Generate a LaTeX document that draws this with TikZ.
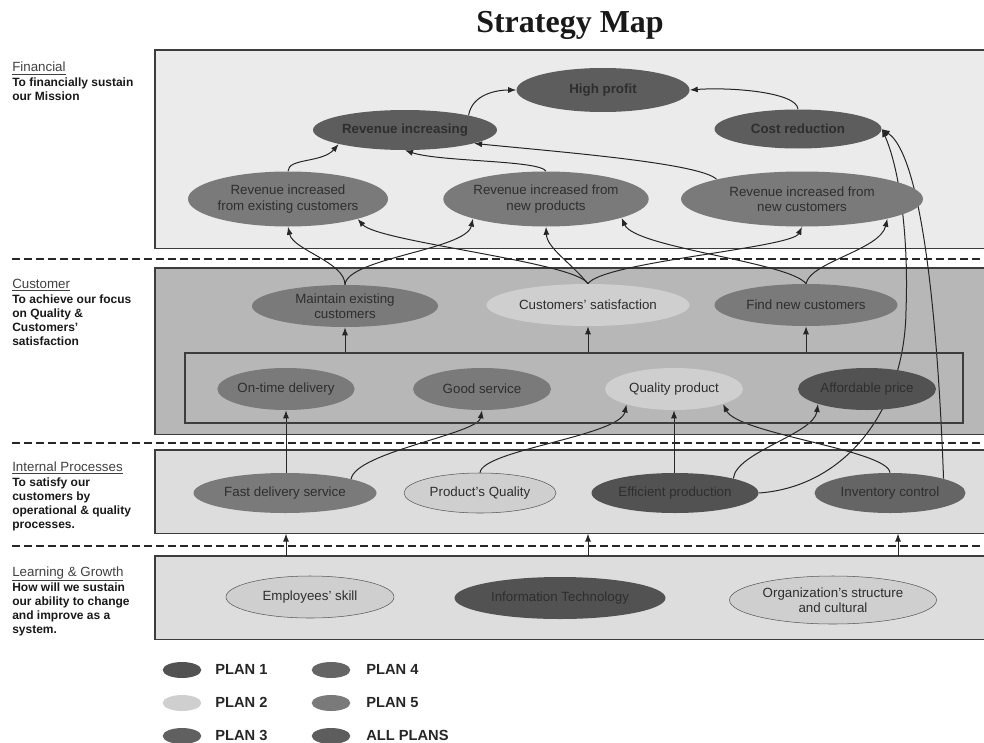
\documentclass[tikz,border=0pt]{standalone}
\usepackage{fontspec}
\setmainfont{Liberation Sans}
\newfontfamily\titlefont{Liberation Serif}
\usetikzlibrary{shapes.geometric,arrows.meta,calc}
\pgfdeclarelayer{bg}
\pgfdeclarelayer{edges}
\pgfsetlayers{bg,edges,main}
\definecolor{cFin}{HTML}{EBEBEB}
\definecolor{cCus}{HTML}{B7B7B7}
\definecolor{cInt}{HTML}{DDDDDD}
\definecolor{cAll}{HTML}{5D5D5D}
\definecolor{cPa}{HTML}{525252}
\definecolor{cPb}{HTML}{CFCFCF}
\definecolor{cPc}{HTML}{606060}
\definecolor{cPd}{HTML}{656565}
\definecolor{cPe}{HTML}{7A7A7A}
\definecolor{ntext}{HTML}{2E2E2E}
\definecolor{lineC}{HTML}{262626}
\definecolor{panelLine}{HTML}{3C3C3C}
\begin{document}
\begin{tikzpicture}[x=0.75pt,y=-0.75pt,
  el/.style 2 args={ellipse, inner sep=0pt, minimum width=#1*0.75pt, minimum height=#2*0.75pt,
    align=center, font=\fontsize{10}{11.5}\selectfont, text=ntext},
  bld/.style={font=\fontsize{10}{11.5}\selectfont\bfseries},
  outl/.style={draw=black!65, line width=0.4pt},
  arr/.style={draw=lineC, line width=0.75pt, -{Latex[length=6pt,width=4.5pt]}},
  panel/.style={draw=none, inner sep=0pt, anchor=north west},
  pline/.style={draw=panelLine, line width=0.8pt},
  sep/.style={draw=black!85, line width=1pt, dash pattern=on 6pt off 3pt},
  head/.style={anchor=base west, inner sep=0pt, font=\fontsize{10}{12}\selectfont, text=black!75},
  body/.style={anchor=base west, inner sep=0pt, font=\fontsize{9}{10.5}\selectfont\bfseries, text=black!90},
  leg/.style={ellipse, inner sep=0pt, minimum width=29pt, minimum height=12pt},
  legt/.style={anchor=base west, inner sep=0pt, font=\fontsize{11}{13}\selectfont\bfseries, text=black!85}
]
\useasboundingbox (0,0) rectangle (984,742);

% ---------- panels ----------
\begin{pgfonlayer}{bg}
\node[panel, fill=cFin, minimum width=829*0.75pt, minimum height=198*0.75pt] (pfin) at (155,50) {};
\node[panel, fill=cCus, minimum width=829*0.75pt, minimum height=166*0.75pt] (pcus) at (155,268) {};
\node[panel, fill=cInt, minimum width=829*0.75pt, minimum height=83*0.75pt] (pint) at (155,450) {};
\node[panel, fill=cInt, minimum width=829*0.75pt, minimum height=83*0.75pt] (plrn) at (155,556) {};
\draw[pline] (pfin.north east) -- (pfin.north west) -- (pfin.south west) -- (pfin.south east);
\draw[pline] (pcus.north east) -- (pcus.north west) -- (pcus.south west) -- (pcus.south east);
\draw[pline] (pint.north east) -- (pint.north west) -- (pint.south west) -- (pint.south east);
\draw[pline] (plrn.north east) -- (plrn.north west) -- (plrn.south west) -- (plrn.south east);
\coordinate (d1a) at (12,259); \coordinate (d1b) at (984,259);
\coordinate (d2a) at (12,443); \coordinate (d2b) at (984,443);
\coordinate (d3a) at (12,546); \coordinate (d3b) at (984,546);
\draw[sep] (d1a) -- (d1b);
\draw[sep] (d2a) -- (d2b);
\draw[sep] (d3a) -- (d3b);
\end{pgfonlayer}

% ---------- title ----------
\node[anchor=base, inner sep=0pt, font=\titlefont\fontsize{24}{28}\selectfont\bfseries, text=black!90] (title) at (570,33) {Strategy Map};

% ---------- left labels ----------
\node[head] (h1) at (12,72) {\underline{Financial}};
\node[body] (h1a) at (12,86) {To financially sustain};
\node[body] (h1b) at (12,100) {our Mission};
\node[head] (h2) at (12,288) {\underline{Customer}};
\node[body] (h2a) at (12,303) {To achieve our focus};
\node[body] (h2b) at (12,317) {on Quality \&};
\node[body] (h2c) at (12,331) {Customers'};
\node[body] (h2d) at (12,345) {satisfaction};
\node[head] (h3) at (12,471) {\underline{Internal Processes}};
\node[body] (h3a) at (12,486) {To satisfy our};
\node[body] (h3b) at (12,500) {customers by};
\node[body] (h3c) at (12,514) {operational \& quality};
\node[body] (h3d) at (12,528) {processes.};
\node[head] (h4) at (12,576) {\underline{Learning \& Growth}};
\node[body] (h4a) at (12,591) {How will we sustain};
\node[body] (h4b) at (12,605) {our ability to change};
\node[body] (h4c) at (12,619) {and improve as a};
\node[body] (h4d) at (12,633) {system.};

% ---------- financial ----------
\node[el={173}{44}, fill=cAll, bld] (hp) at (603,90) {High profit};
\node[el={184}{40}, fill=cAll, bld] (ri) at (405,130) {Revenue increasing};
\node[el={167}{39}, fill=cAll, bld] (cr) at (798,129) {Cost reduction};
\node[el={200}{55}, fill=cPe] (rex) at (288,199) {Revenue increased\\from existing customers};
\node[el={205}{55}, fill=cPe] (rnp) at (546,199) {Revenue increased from\\new products};
\node[el={242}{55}, fill=cPe] (rnc) at (802,199) {Revenue increased from\\new customers};

% ---------- customer ----------
\node[el={186}{42}, fill=cPe] (me) at (345,306) {Maintain existing\\customers};
\node[el={203}{42}, fill=cPb] (cs) at (588,305) {Customers' satisfaction};
\node[el={183}{42}, fill=cPe] (fnc) at (806,305) {Find new customers};
\node[draw=panelLine, line width=0.8pt, inner sep=0pt, minimum width=778*0.75pt, minimum height=70*0.75pt] (ibox) at (574,388) {};
\node[el={137}{42}, fill=cPe] (otd) at (286,389) {On-time delivery};
\node[el={138}{42}, fill=cPe] (gs) at (482,389) {Good service};
\node[el={138}{42}, fill=cPb] (qp) at (674,389) {Quality product};
\node[el={138}{42}, fill=cPa] (ap) at (867,389) {Affordable price};

% ---------- internal processes ----------
\node[el={183}{40}, fill=cPe] (fds) at (285,493) {Fast delivery service};
\node[el={152}{40}, fill=cPb, outl] (pq) at (480,493) {Product's Quality};
\node[el={167}{40}, fill=cPa] (ep) at (675,493) {Efficient production};
\node[el={151}{40}, fill=cPd] (ic) at (890,493) {Inventory control};

% ---------- learning & growth ----------
\node[el={168}{42}, fill=cPb, outl] (es) at (310,597) {Employees' skill};
\node[el={211}{42}, fill=cPa] (it) at (560,598) {Information Technology};
\node[el={207}{48}, fill=cPb, outl] (osc) at (833,600) {Organization's structure\\and cultural};

% ---------- legend ----------
\node[leg, fill=cPa] (l1) at (182,670) {};
\node[legt] (l1t) at (215,674) {PLAN 1};
\node[leg, fill=cPb] (l2) at (182,703) {};
\node[legt] (l2t) at (215,707) {PLAN 2};
\node[leg, fill=cPc] (l3) at (182,736) {};
\node[legt] (l3t) at (215,740) {PLAN 3};
\node[leg, fill=cPd] (l4) at (331,670) {};
\node[legt] (l4t) at (366,674) {PLAN 4};
\node[leg, fill=cPe] (l5) at (331,703) {};
\node[legt] (l5t) at (366,707) {PLAN 5};
\node[leg, fill=cAll] (l6) at (331,736) {};
\node[legt] (l6t) at (366,740) {ALL PLANS};

% ---------- connectors ----------
\coordinate (bend22) at (906,310);
\coordinate (lg3) at (898,556);
\begin{pgfonlayer}{edges}
% financial
\draw[arr] (ri.13) .. controls (472,95) and (495,90) .. (hp.west);
\draw[arr] (cr.north) .. controls (797,92) and (730,87) .. (hp.east);
\draw[arr] (rex.north) .. controls (288,158) and (322,163) .. (ri.192);
\draw[arr] (rnp.north) .. controls (540,160) and (440,162) .. (ri.south);
\draw[arr] (rnc.167) .. controls (700,163) and (560,152) .. (ri.349);
% customer -> financial
\draw[arr] (me.north) .. controls (345,262) and (293,250) .. (rex.south);
\draw[arr] (me.north) .. controls (347,258) and (466,250) .. (rnp.195);
\draw[arr] (cs.north) .. controls (576,262) and (378,242) .. (rex.344);
\draw[arr] (cs.north) .. controls (570,262) and (547,248) .. (rnp.south);
\draw[arr] (cs.north) .. controls (602,262) and (792,248) .. (rnc.south);
\draw[arr] (fnc.north) .. controls (790,262) and (635,248) .. (rnp.346);
\draw[arr] (fnc.north) .. controls (810,262) and (880,250) .. (rnc.347);
% box -> customer
\draw[arr] (me.south |- ibox.north) -- (me.south);
\draw[arr] (cs.south |- ibox.north) -- (cs.south);
\draw[arr] (fnc.south |- ibox.north) -- (fnc.south);
% internal -> customer
\draw[arr] (otd.south |- fds.north) -- (otd.south);
\draw[arr] (fds.12) .. controls (356,452) and (478,434) .. (gs.south);
\draw[arr] (pq.north) .. controls (482,450) and (620,436) .. (qp.198);
\draw[arr] (qp.south |- ep.north) -- (qp.south);
\draw[arr] (ep.14) .. controls (736,452) and (814,434) .. (ap.197);
\draw[arr] (ic.north) .. controls (888,450) and (738,434) .. (qp.343);
% to cost reduction
\draw[arr] (ep.east) .. controls (845,487) and (905,410) .. (bend22) .. controls (909,230) and (898,165) .. (cr.east);
\draw[arr] (ic.15) .. controls (940,380) and (928,160) .. (cr.east);
% learning -> internal
\draw[arr] (otd |- plrn.north) -- (otd |- pint.south);
\draw[arr] (cs |- plrn.north) -- (cs |- pint.south);
\draw[arr] (lg3) -- (lg3 |- pint.south);
\end{pgfonlayer}
\end{tikzpicture}
\end{document}
